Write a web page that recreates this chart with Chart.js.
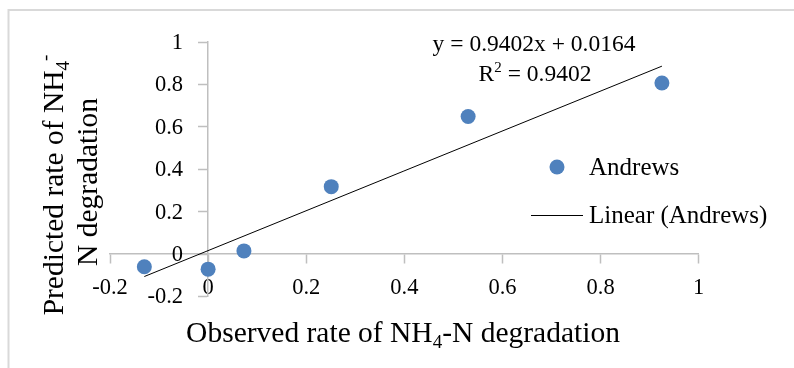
<!DOCTYPE html>
<html>
<head>
<meta charset="utf-8">
<title>Andrews</title>
<script src="https://cdn.jsdelivr.net/npm/chart.js@4.4.1/dist/chart.umd.min.js"></script>
<style>
  html, body { margin: 0; padding: 0; background: #fff; }
  #wrap { position: relative; width: 794px; height: 368px; }
</style>
</head>
<body>
<div id="wrap"><canvas id="andrewsChart"></canvas></div>
<script>
// Datos: tasa observada vs. predicha (modelo de Andrews)
const observed = [-0.13, 0.0, 0.073, 0.251, 0.53, 0.925];
const predicted = [-0.06, -0.071, 0.015, 0.318, 0.649, 0.807];
const trendSlope = 0.9402;
const trendIntercept = 0.0164;
const rSquared = 0.9402;
const xTicks = [-0.2, 0, 0.2, 0.4, 0.6, 0.8, 1];
const yTicks = [-0.2, 0, 0.2, 0.4, 0.6, 0.8, 1];
const seriesName = 'Andrews';
const trendName = 'Linear (Andrews)';

(function (window) {
    'use strict';

    const FONT = "'Liberation Serif', 'Times New Roman', serif";
    const AXIS_GRAY = '#bfbfbf';
    const POINT_BLUE = '#4f81bd';
    const TICK_SIZE = 22.5;
    const TITLE_SIZE = 29.5;

    const fmt = v => String(+Number(v).toFixed(1));

    // texto con subindices / superindices
    const drawRuns = (ctx, runs, x, y, size) => {
        const main = size + 'px ' + FONT;
        const small = Math.round(size * 0.65) + 'px ' + FONT;
        let total = 0;
        runs.forEach(r => {
            ctx.font = r.k ? small : main;
            r.w = ctx.measureText(r.t).width;
            total += r.w;
        });
        let cx = x - total / 2;
        ctx.textAlign = 'left';
        ctx.textBaseline = 'alphabetic';
        runs.forEach(r => {
            ctx.font = r.k ? small : main;
            const dy = r.k === 'sub' ? size * 0.2 : (r.k === 'sup' ? -size * 0.4 : 0);
            ctx.fillText(r.t, cx, y + dy);
            cx += r.w;
        });
    };

    const points = observed.map((x, i) => ({ x, y: predicted[i] }));
    const xMin = Math.min(...observed);
    const xMax = Math.max(...observed);
    const trend = [xMin, xMax].map(x => ({ x, y: trendSlope * x + trendIntercept }));

    const decoPlugin = {
        id: 'deco',
        beforeDraw(chart) {
            const ctx = chart.ctx;
            ctx.save();
            ctx.fillStyle = '#fff';
            ctx.fillRect(0, 0, chart.width, chart.height);
            ctx.strokeStyle = '#d9d9d9';
            ctx.lineWidth = 2;
            ctx.strokeRect(8.5, 10, chart.width + 20, chart.height + 20);
            ctx.restore();
        },
        afterDraw(chart) {
            const ctx = chart.ctx;
            const ds = chart.data.datasets;
            const xs = chart.scales.x;
            const ys = chart.scales.y;
            ctx.save();
            ctx.fillStyle = '#000';

            // etiquetas del eje Y, a la izquierda del eje en x = 0
            const axisX = xs.getPixelForValue(0);
            ctx.font = TICK_SIZE + 'px ' + FONT;
            ctx.textAlign = 'right';
            ctx.textBaseline = 'middle';
            ys.ticks.forEach(t => {
                ctx.fillText(fmt(t.value), axisX - 25, ys.getPixelForValue(t.value) + 1);
            });

            // titulos de los ejes
            drawRuns(ctx, [{ t: 'Observed rate of NH' }, { t: '4', k: 'sub' }, { t: '-N degradation' }], 403, 342, TITLE_SIZE);
            ctx.save();
            ctx.translate(63, 185);
            ctx.rotate(-Math.PI / 2);
            drawRuns(ctx, [{ t: 'Predicted rate of NH' }, { t: '4', k: 'sub' }, { t: '-', k: 'sup' }], 0, 0, TITLE_SIZE);
            ctx.restore();
            ctx.save();
            ctx.translate(97, 182);
            ctx.rotate(-Math.PI / 2);
            drawRuns(ctx, [{ t: 'N degradation' }], 0, 0, TITLE_SIZE);
            ctx.restore();

            // ecuacion de la tendencia
            drawRuns(ctx, [{ t: 'y = ' + trendSlope.toFixed(4) + 'x + ' + trendIntercept.toFixed(4) }], 534, 51, 23.5);
            drawRuns(ctx, [{ t: 'R' }, { t: '2', k: 'sup' }, { t: ' = ' + rSquared.toFixed(4) }], 535, 81, 23.5);

            // leyenda
            ctx.fillStyle = ds[0].backgroundColor;
            ctx.beginPath();
            ctx.arc(557, 167, ds[0].pointRadius, 0, Math.PI * 2);
            ctx.fill();
            ctx.strokeStyle = ds[1].borderColor;
            ctx.lineWidth = ds[1].borderWidth;
            ctx.beginPath();
            ctx.moveTo(531, 215.5);
            ctx.lineTo(583, 215.5);
            ctx.stroke();
            ctx.fillStyle = '#000';
            ctx.font = '25px ' + FONT;
            ctx.textAlign = 'left';
            ctx.textBaseline = 'middle';
            ctx.fillText(ds[0].label, 589, 168);
            ctx.fillText(ds[1].label, 589, 216);
            ctx.restore();
        }
    };

    const axisCommon = {
        type: 'linear',
        min: -0.2,
        max: 1,
        grid: { drawOnChartArea: false, drawTicks: true, tickLength: 9, tickColor: AXIS_GRAY, tickWidth: 1.5 },
        border: { color: AXIS_GRAY, width: 1.5 },
        ticks: { color: '#000', font: { family: FONT, size: TICK_SIZE }, callback: fmt }
    };

    const canvas = document.getElementById('andrewsChart');
    new Chart(canvas.getContext('2d'), {
        type: 'scatter',
        data: {
            datasets: [{
                label: seriesName,
                data: points,
                backgroundColor: POINT_BLUE,
                borderWidth: 0,
                pointRadius: 7.5,
                pointHoverRadius: 7.5,
                order: 1
            }, {
                type: 'line',
                label: trendName,
                data: trend,
                borderColor: '#000',
                borderWidth: 1,
                pointRadius: 0,
                fill: false,
                order: 2
            }]
        },
        options: {
            responsive: true,
            maintainAspectRatio: false,
            animation: false,
            layout: { padding: { left: 110, right: 95.3, top: 42, bottom: 71.5 } },
            plugins: { legend: { display: false }, tooltip: { enabled: false } },
            scales: {
                x: Object.assign({}, axisCommon, {
                    position: { y: 0 },
                    afterBuildTicks: s => { s.ticks = xTicks.map(v => ({ value: v })); },
                    afterFit: s => { s.height = 0; },
                    ticks: Object.assign({}, axisCommon.ticks, { padding: 12 })
                }),
                y: Object.assign({}, axisCommon, {
                    position: { x: 0 },
                    afterBuildTicks: s => { s.ticks = yTicks.map(v => ({ value: v })); },
                    afterFit: s => { s.width = 0; },
                    ticks: Object.assign({}, axisCommon.ticks, { display: false })
                })
            }
        },
        plugins: [decoPlugin]
    });
})(window);
</script>
</body>
</html>
